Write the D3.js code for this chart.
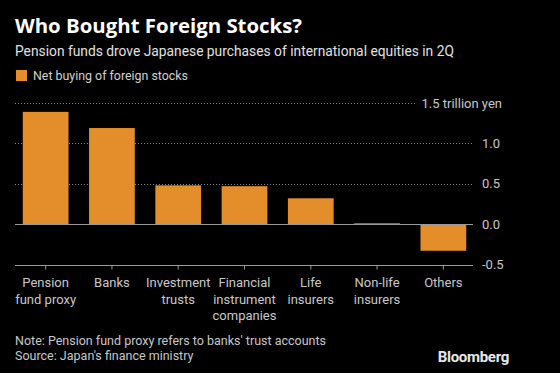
<!DOCTYPE html>
<html>
<head>
<meta charset="utf-8">
<script src="https://cdn.jsdelivr.net/npm/d3@7"></script>
<style>
  body { margin: 0; background: #000; }
  svg { display: block; font-family: Roboto, "Noto Sans", sans-serif; }
</style>
</head>
<body>
<svg id="chart" width="560" height="373"></svg>
<script>
// data (trillion yen)
var categories = ["Pension fund proxy", "Banks", "Investment trusts", "Financial instrument companies", "Life insurers", "Non-life insurers", "Others"];
var labelLines = [["Pension", "fund proxy"], ["Banks"], ["Investment", "trusts"], ["Financial", "instrument", "companies"], ["Life", "insurers"], ["Non-life", "insurers"], ["Others"]];
var netBuying = [1.39, 1.19, 0.48, 0.47, 0.32, 0.01, -0.33];
var yTicks = [-0.5, 0, 0.5, 1.0, 1.5];
var yTickLabels = ["-0.5", "0.0", "0.5", "1.0", "1.5 trillion yen"];

var svg = d3.select("#chart");
var W = 560, H = 373;
svg.append("rect").attr("width", W).attr("height", H).attr("fill", "#000");

var orange = "#e38e2b";

// titles
svg.append("text").attr("x", 15).attr("y", 33)
  .attr("fill", "#fff").attr("font-size", 20.4).attr("font-weight", "bold")
  .attr("font-family", "'Open Sans', sans-serif")
  .text("Who Bought Foreign Stocks?");
svg.append("text").attr("x", 15).attr("y", 56)
  .attr("fill", "#e0e0e0").attr("font-size", 13.8)
  .text("Pension funds drove Japanese purchases of international equities in 2Q");

// legend
svg.append("rect").attr("x", 16).attr("y", 70).attr("width", 11).attr("height", 11).attr("fill", orange);
svg.append("text").attr("x", 33).attr("y", 80)
  .attr("fill", "#d0d0d0").attr("font-size", 12.4)
  .text("Net buying of foreign stocks");

var x = d3.scaleBand().domain(categories).range([12.5, 476.5]).paddingInner(0.31).paddingOuter(0.155);
var y = d3.scaleLinear().domain([-0.5, 1.5]).range([264.5, 103]);

var g = svg.append("g");

// dotted gridlines
yTicks.forEach(function(t, i) {
  if (t == -0.5 || t == 0) return;
  g.append("line")
    .attr("x1", 15).attr("x2", t == 1.5 ? 417 : 473)
    .attr("y1", Math.round(y(t)) + 0.5).attr("y2", Math.round(y(t)) + 0.5)
    .attr("stroke", "#8a8a8a").attr("stroke-width", 1)
    .attr("stroke-dasharray", "1,2");
});

// bars
g.selectAll("rect.bar").data(netBuying).enter().append("rect")
  .attr("class", "bar")
  .attr("x", function(d, i) { return x(categories[i]); })
  .attr("width", x.bandwidth())
  .attr("y", function(d) { return y(Math.max(0, d)); })
  .attr("height", function(d) { return Math.max(1, Math.abs(y(d) - y(0))); })
  .attr("fill", orange);

// zero line
g.append("line").attr("x1", 15).attr("x2", 473)
  .attr("y1", Math.round(y(0)) + 0.5).attr("y2", Math.round(y(0)) + 0.5)
  .attr("stroke", "#9a9a9a").attr("stroke-width", 1);

// bottom axis
var xAxis = d3.axisBottom(x).tickSize(4).tickFormat("");
var ax = g.append("g").attr("transform", "translate(0," + (Math.round(y(-0.5)) + 0.5) + ")").call(xAxis);
ax.select(".domain").remove();
ax.selectAll(".tick line").attr("stroke", "#9a9a9a");
g.append("line").attr("x1", 15).attr("x2", 473)
  .attr("y1", Math.round(y(-0.5)) + 0.5).attr("y2", Math.round(y(-0.5)) + 0.5)
  .attr("stroke", "#9a9a9a");

// category labels
categories.forEach(function(c, i) {
  var t = g.append("text").attr("x", x(c) + x.bandwidth() / 2).attr("y", 287)
    .attr("text-anchor", "middle").attr("fill", "#c8c8c8").attr("font-size", 13);
  labelLines[i].forEach(function(line, j) {
    t.append("tspan").attr("x", x(c) + x.bandwidth() / 2).attr("dy", j == 0 ? 0 : 16.5).text(line);
  });
});

// y tick labels on the right
yTicks.forEach(function(t, i) {
  var last = i == yTicks.length - 1;
  g.append("text")
    .attr("x", last ? 502 : 482).attr("y", y(t) + 4.5)
    .attr("text-anchor", last ? "end" : "start")
    .attr("fill", "#c8c8c8").attr("font-size", 13)
    .text(yTickLabels[i]);
});

// footer
svg.append("text").attr("x", 15).attr("y", 345).attr("fill", "#c8c8c8").attr("font-size", 12.5)
  .text("Note: Pension fund proxy refers to banks' trust accounts");
svg.append("text").attr("x", 15).attr("y", 360).attr("fill", "#c8c8c8").attr("font-size", 12.5)
  .text("Source: Japan's finance ministry");
svg.append("text").attr("x", 509).attr("y", 362).attr("text-anchor", "end")
  .attr("fill", "#e8e8e8").attr("font-size", 15).attr("font-weight", "bold")
  .attr("letter-spacing", -0.3)
  .text("Bloomberg");
</script>
</body>
</html>
